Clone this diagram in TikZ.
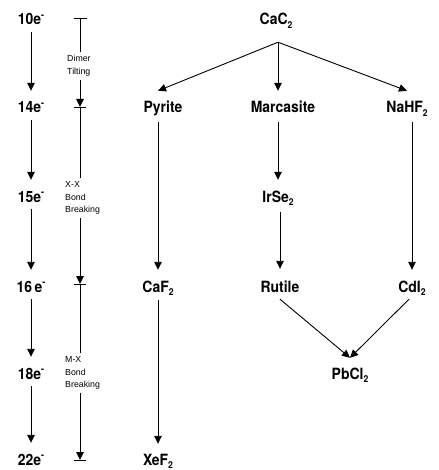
\documentclass[tikz,border=0pt]{standalone}
\usepackage{fontspec}
\usetikzlibrary{arrows.meta,calc}
\newfontfamily\labfont[FakeStretch=0.9]{TeX Gyre Heros}
\newfontfamily\notefont{Liberation Sans}
\newcommand\chsub[1]{\raisebox{-0.25em}{\fontsize{9.5}{9.5}\selectfont #1}}
\newcommand\elec{e\raisebox{0.42em}{\fontsize{10}{10}\selectfont -}}
\begin{document}
\begin{tikzpicture}[x=1pt,y=-1pt,
  lbl/.style={font=\labfont\bfseries\fontsize{15.5}{15.5}\selectfont, inner sep=0pt, anchor=base, text height=11pt, text depth=0pt},
  notetxt/.style={font=\notefont\fontsize{8.8}{12.8}\selectfont, align=left, inner sep=3pt, anchor=west},
  arrw/.style={-{Triangle[length=8pt,width=7.5pt]}, line width=0.9pt},
  ln/.style={line width=0.9pt},
  vshort/.style={shorten <=7pt, shorten >=11pt}
]
\useasboundingbox (0,0) rectangle (438,470);
% electron count column
\node[lbl] (e10) at (31,25) {10\elec};
\node[lbl] (e14) at (31,113) {14\elec};
\node[lbl] (e15) at (31,202) {15\elec};
\node[lbl] (e16) at (31,292) {16\,\elec};
\node[lbl] (e18) at (31,379) {18\elec};
\node[lbl] (e22) at (31,465) {22\elec};
\draw[arrw,vshort] (e10.south) -- (e14.north);
\draw[arrw,vshort] (e14.south) -- (e15.north);
\draw[arrw,vshort] (e15.south) -- (e16.north);
\draw[arrw,vshort] (e16.south) -- (e18.north);
\draw[arrw,vshort] (e18.south) -- (e22.north);
% process column
\coordinate (tee) at (80,18);
\coordinate (m14) at (80,107);
\coordinate (m16) at (80,284);
\coordinate (m22) at (80,460);
\node[notetxt] (dimer) at (64,66) {Dimer\\Tilting};
\node[notetxt] (xx) at (62,198) {X-X\\Bond\\Breaking};
\node[notetxt] (mx) at (62,373) {M-X\\Bond\\Breaking};
\draw[ln] ([xshift=-6.5pt]tee) -- ([xshift=6.5pt]tee);
\draw[ln] (tee) -- (tee |- dimer.north);
\draw[arrw] (tee |- dimer.south) -- (m14);
\draw[ln] ([xshift=-6pt]m14) -- ([xshift=6pt]m14);
\draw[ln] (m14) -- (tee |- xx.north);
\draw[arrw] (tee |- xx.south) -- (m16);
\draw[ln] ([xshift=-6pt]m16) -- ([xshift=6pt]m16);
\draw[ln] (m16) -- (tee |- mx.north);
\draw[arrw] (tee |- mx.south) -- (m22);
\draw[ln] ([xshift=-6pt]m22) -- ([xshift=6pt]m22);
% structures
\node[lbl] (cac2) at (276,25) {CaC\chsub2};
\node[lbl] (pyrite) at (163,113) {Pyrite};
\node[lbl] (marc) at (283,113) {Marcasite};
\node[lbl] (nahf2) at (407,113) {NaHF\chsub2};
\node[lbl] (irse2) at (278,202) {IrSe\chsub2};
\node[lbl] (caf2) at (158,292) {CaF\chsub2};
\node[lbl] (rutile) at (280,292) {Rutile};
\node[lbl] (cdi2) at (412,292) {CdI\chsub2};
\node[lbl] (pbcl2) at (350,379) {PbCl\chsub2};
\node[lbl] (xef2) at (158,465) {XeF\chsub2};
\coordinate (fork) at ($(cac2.south)+(2,17)$);
\draw[arrw] (fork) -- ($(caf2 |- pyrite.north)+(0,-11)$);
\draw[arrw] (fork) -- ($(irse2 |- marc.north)+(0,-11)$);
\draw[arrw] (fork) -- ($(nahf2.north)+(0,-11)$);
\draw[arrw,shorten <=9pt,shorten >=11pt] (caf2 |- pyrite.south) -- (caf2.north);
\draw[arrw,shorten <=9pt,shorten >=11pt] (irse2 |- marc.south) -- (irse2.north);
\draw[arrw,shorten <=10pt,shorten >=12pt] (rutile |- irse2.south) -- (rutile.north);
\draw[arrw,shorten <=9pt,shorten >=11pt] (cdi2 |- nahf2.south) -- (cdi2.north);
\draw[arrw,shorten <=8pt,shorten >=10pt] (caf2.south) -- (xef2.north);
\draw[arrw] ($(rutile.south)+(0,7)$) -- ($(pbcl2.north)+(0,-10)$);
\draw[arrw] ($(cdi2.south)+(-3,7)$) -- ($(pbcl2.north)+(0,-10)$);
\end{tikzpicture}
\end{document}
